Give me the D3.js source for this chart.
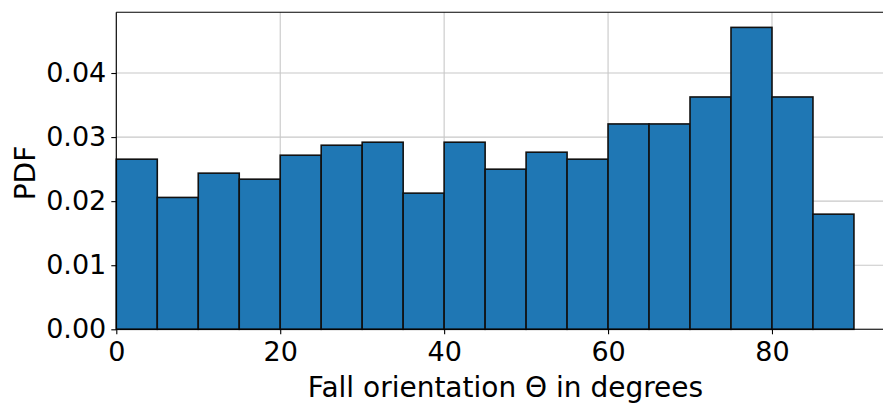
<!DOCTYPE html>
<html>
<head>
<meta charset="utf-8">
<script src="https://cdn.jsdelivr.net/npm/d3@7"></script>
<style>
  html, body { margin: 0; padding: 0; background: #fff; overflow: hidden; }
  svg { display: block; font-family: "DejaVu Sans", sans-serif; }
</style>
</head>
<body>
<svg id="chart" width="883" height="405"></svg>
<script>
// Histogram bin edges (degrees) and PDF values
const binEdges = [0,5,10,15,20,25,30,35,40,45,50,55,60,65,70,75,80,85,90];
const pdfValues = [0.02655,0.02058,0.02437,0.02343,0.02717,0.02873,0.0292,0.02125,0.0292,
                   0.02499,0.02764,0.02655,0.03205,0.03205,0.03626,0.04712,0.03626,0.01797];
const xTicks = [0,20,40,60,80];
const yTicks = [0,0.01,0.02,0.03,0.04];
const xLabel = "Fall orientation \u0398 in degrees";
const yLabel = "PDF";

const bins = pdfValues.map((v,i) => ({x0: binEdges[i], x1: binEdges[i+1], v}));

const svg = d3.select("#chart");
const pLeft = 116.3, pTop = 12.3, pBottom = 329.3;
const xMax = 94.5;
const pxPerUnit = 8.196;
const pRight = pLeft + xMax * pxPerUnit;

const x = d3.scaleLinear().domain([0, xMax]).range([pLeft, pRight]);
const yMax = d3.max(pdfValues) * 1.05;
const y = d3.scaleLinear().domain([0, yMax]).range([pBottom, pTop]);

// grid
const grid = svg.append("g");
grid.selectAll("line.vx").data(xTicks).join("line")
  .attr("x1", d => x(d)).attr("x2", d => x(d))
  .attr("y1", pTop).attr("y2", pBottom)
  .attr("stroke", "#c8c8c8").attr("stroke-width", 1.1);
grid.selectAll("line.hy").data(yTicks).join("line")
  .attr("x1", pLeft).attr("x2", pRight)
  .attr("y1", d => y(d)).attr("y2", d => y(d))
  .attr("stroke", "#c8c8c8").attr("stroke-width", 1.1);

// bars
svg.append("g").selectAll("rect").data(bins).join("rect")
  .attr("x", d => x(d.x0))
  .attr("width", d => x(d.x1) - x(d.x0))
  .attr("y", d => y(d.v))
  .attr("height", d => y(0) - y(d.v))
  .attr("fill", "#1f77b4")
  .attr("stroke", "#111")
  .attr("stroke-width", 1.6);

// top spine
svg.append("line").attr("x1", pLeft).attr("x2", pRight).attr("y1", pTop).attr("y2", pTop)
  .attr("stroke", "#000").attr("stroke-width", 1.1);

// axes
const xAxis = svg.append("g").attr("transform", `translate(0,${pBottom})`)
  .call(d3.axisBottom(x).tickValues(xTicks).tickFormat(d3.format("d")).tickSize(5).tickPadding(8));
const yAxis = svg.append("g").attr("transform", `translate(${pLeft},0)`)
  .call(d3.axisLeft(y).tickValues(yTicks).tickFormat(d3.format(".2f")).tickSize(5).tickPadding(5));

[xAxis, yAxis].forEach(g => {
  g.select(".domain").attr("stroke", "#000").attr("stroke-width", 1.1);
  g.selectAll(".tick line").attr("stroke", "#000").attr("stroke-width", 1.1);
  g.selectAll(".tick text").attr("font-size", 27).attr("fill", "#000")
    .attr("font-family", "DejaVu Sans, sans-serif");
});
xAxis.select(".domain").attr("d", `M${pLeft},0H${pRight}`);
yAxis.select(".domain").attr("d", `M0,${pTop}V${pBottom}`);

// labels
svg.append("text").attr("x", 505.5).attr("y", 397)
  .attr("text-anchor", "middle").attr("font-size", 28).attr("fill", "#000")
  .text(xLabel);
svg.append("text")
  .attr("transform", `translate(34.5,173) rotate(-90)`)
  .attr("text-anchor", "middle").attr("font-size", 28).attr("fill", "#000")
  .text(yLabel);
</script>
</body>
</html>
